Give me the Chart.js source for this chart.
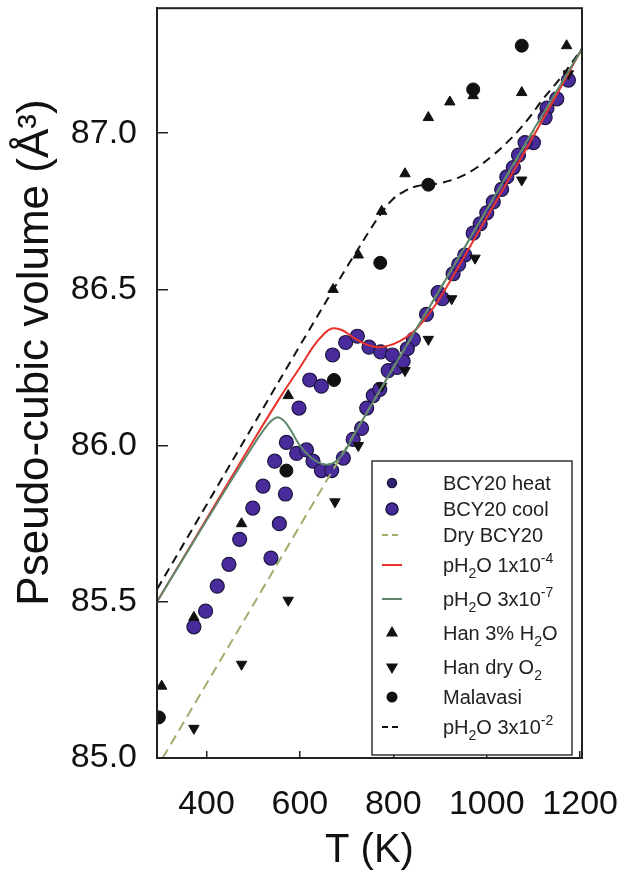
<!DOCTYPE html>
<html>
<head>
<meta charset="utf-8">
<script src="https://cdn.jsdelivr.net/npm/chart.js@4.4.1/dist/chart.umd.min.js"></script>
<style>
  html, body { margin: 0; padding: 0; background: #fff; }
  #wrap { width: 622px; height: 877px; }
</style>
</head>
<body>
<div id="wrap"><canvas id="myChart"></canvas></div>
<script>
// axis ticks
const xTicks = [400, 600, 800, 1000, 1200];
const yTicks = [85.0, 85.5, 86.0, 86.5, 87.0];

// BCY20 measured points
const heatT = [373, 398, 423, 448, 471, 499, 521, 546, 571, 598, 621, 646, 670, 698, 723, 748, 773, 798, 830, 871, 905, 940, 971, 1000, 1032, 1057, 1082, 1125, 1175];
const heatV = [85.42, 85.47, 85.55, 85.62, 85.70, 85.80, 85.87, 85.95, 86.01, 86.12, 86.21, 86.19, 86.29, 86.33, 86.35, 86.315, 86.30, 86.29, 86.31, 86.42, 86.47, 86.58, 86.68, 86.745, 86.82, 86.89, 86.97, 87.05, 87.17];
const coolT = [538, 556, 569, 593, 614, 628, 646, 668, 693, 714, 732, 743, 757, 771, 789, 808, 821, 843, 896, 928, 953, 986, 1014, 1043, 1068, 1100, 1129, 1150];
const coolV = [85.64, 85.75, 85.845, 85.975, 85.986, 85.95, 85.92, 85.92, 85.96, 86.02, 86.055, 86.12, 86.16, 86.18, 86.24, 86.25, 86.27, 86.34, 86.49, 86.55, 86.61, 86.71, 86.78, 86.86, 86.93, 86.97, 87.08, 87.11];

// literature points
const hanWetT = [304, 373, 475, 575, 671, 725, 775, 825, 875, 921, 971, 1075, 1171];
const hanWetV = [85.23, 85.45, 85.75, 86.16, 86.50, 86.61, 86.75, 86.87, 87.05, 87.10, 87.12, 87.13, 87.28];
const hanDryT = [373, 475, 575, 675, 725, 775, 825, 875, 925, 975, 1075, 1175];
const hanDryV = [85.095, 85.30, 85.505, 85.82, 86.00, 86.19, 86.24, 86.34, 86.47, 86.60, 86.85, 87.19];
const malT = [298, 571, 673, 772, 875, 971, 1075];
const malV = [85.13, 85.92, 86.21, 86.585, 86.835, 87.14, 87.28];

// model curves
const dryT = [306, 1204];
const dryV = [85.0, 87.27];
const p4T = [294, 400, 500, 560, 600, 630, 650, 668, 690, 715, 740, 765, 790, 815, 840, 865, 890, 915, 950, 1000, 1100, 1204];
const p4V = [85.50, 85.765, 86.015, 86.16, 86.25, 86.32, 86.355, 86.375, 86.37, 86.345, 86.325, 86.315, 86.32, 86.335, 86.36, 86.40, 86.45, 86.51, 86.60, 86.73, 86.99, 87.27];
const p7T = [294, 400, 500, 530, 550, 565, 580, 600, 625, 650, 672, 693, 720, 800, 900, 1000, 1100, 1204];
const p7V = [85.50, 85.76, 86.00, 86.065, 86.09, 86.08, 86.05, 86.00, 85.96, 85.94, 85.945, 85.975, 86.045, 86.25, 86.50, 86.755, 87.01, 87.27];
const p2T = [294, 400, 500, 600, 700, 725, 750, 775, 800, 825, 850, 875, 900, 943, 979, 1014, 1050, 1086, 1121, 1157, 1204];
const p2V = [85.54, 85.81, 86.065, 86.32, 86.57, 86.63, 86.69, 86.745, 86.79, 86.815, 86.83, 86.835, 86.84, 86.86, 86.89, 86.93, 86.98, 87.04, 87.11, 87.175, 87.27];

const FONT = "'Liberation Sans', Arial, sans-serif";
const pts = (xs, ys) => xs.map((x, i) => ({x: x, y: ys[i]}));

function curve(label, xs, ys, color, dash, order, tension) {
    return {
        label: label, data: pts(xs, ys), showLine: true, pointRadius: 0,
        borderColor: color, backgroundColor: color, borderWidth: 2,
        borderDash: dash, tension: tension, order: order
    };
}

function marks(label, xs, ys, style, opts) {
    return Object.assign({
        label: label, data: pts(xs, ys), showLine: false,
        pointStyle: style, pointRadius: 6, borderWidth: 1,
        backgroundColor: '#111', borderColor: '#111', order: 4
    }, opts);
}

// draw text with _x subscripts and ^-n superscripts
function richText(ctx, text, x, y, size) {
    let cx = x;
    text.split(/(_[^ ]|\^-?\d+)/).filter(Boolean).forEach(p => {
        let t = p, s = size, dy = 0;
        if (p[0] === '_') { t = p.slice(1); s = size * 0.7; dy = size * 0.3; }
        else if (p[0] === '^') { t = p.slice(1); s = size * 0.7; dy = -size * 0.45; }
        ctx.font = s + 'px ' + FONT;
        ctx.fillText(t, cx, y + dy);
        cx += ctx.measureText(t).width;
    });
}

const framePlugin = {
    id: 'frame',
    afterDatasetsDraw(chart) {
        const {ctx, chartArea: a} = chart;
        ctx.save();
        ctx.strokeStyle = '#222';
        ctx.lineWidth = 2;
        ctx.strokeRect(a.left, a.top, a.right - a.left, a.bottom - a.top);
        ctx.restore();
    }
};

const legendPlugin = {
    id: 'insetLegend',
    afterDatasetsDraw(chart) {
        const {ctx, chartArea: a} = chart;
        const right = a.right - 10, bottom = a.bottom - 3;
        const left = right - 200, top = bottom - 294;
        ctx.save();
        ctx.fillStyle = '#fff';
        ctx.fillRect(left, top, right - left, bottom - top);
        ctx.strokeStyle = '#333';
        ctx.lineWidth = 1.5;
        ctx.strokeRect(left, top, right - left, bottom - top);

        const sets = chart.data.datasets;
        let y = top + 22;
        sets.forEach((ds, i) => {
            if (i > 0) {
                y += 26 + (sets[i - 1].label.includes('_') ? 4 : 0) + (ds.label.includes('_') ? 4 : 0);
            }
            const mx = left + 20;
            if (ds.showLine) {
                ctx.strokeStyle = ds.borderColor;
                ctx.lineWidth = 2;
                ctx.setLineDash(ds.borderDash.length ? [6, 4] : []);
                ctx.beginPath();
                ctx.moveTo(mx - 10, y);
                ctx.lineTo(mx + 10, y);
                ctx.stroke();
                ctx.setLineDash([]);
            } else {
                ctx.fillStyle = ds.legendFill || ds.backgroundColor;
                ctx.strokeStyle = ds.borderColor;
                Chart.helpers.drawPoint(ctx, {
                    pointStyle: ds.pointStyle, rotation: ds.rotation || 0,
                    radius: ds.legendRadius || 5, borderWidth: 1
                }, mx, y);
            }
            ctx.fillStyle = '#222';
            ctx.textBaseline = 'alphabetic';
            richText(ctx, ds.label, left + 71, y + 7, 20);
        });
        ctx.restore();
    }
};

const ctx = document.getElementById('myChart');
new Chart(ctx, {
    type: 'scatter',
    data: {
        datasets: [
            marks('BCY20 heat', heatT, heatV, 'circle', {pointRadius: 7, backgroundColor: '#4a2b9c', borderColor: '#1c1640', borderWidth: 1.2, order: 5, legendRadius: 4.5, legendFill: '#2e2375'}),
            marks('BCY20 cool', coolT, coolV, 'circle', {pointRadius: 7, backgroundColor: '#4a2b9c', borderColor: '#1c1640', borderWidth: 1.2, order: 5, legendRadius: 6}),
            curve('Dry BCY20', dryT, dryV, '#9fae6c', [10, 6], 2, 0),
            curve('pH_2O 1x10^-4', p4T, p4V, '#e8322b', [], 1, 0.4),
            curve('pH_2O 3x10^-7', p7T, p7V, '#5e876c', [], 0, 0.4),
            marks('Han 3% H_2O', hanWetT, hanWetV, 'triangle', {legendRadius: 5}),
            marks('Han dry O_2', hanDryT, hanDryV, 'triangle', {rotation: 180, legendRadius: 5}),
            marks('Malavasi', malT, malV, 'circle', {pointRadius: 6.5, legendRadius: 4.5}),
            curve('pH_2O 3x10^-2', p2T, p2V, '#111', [9, 6], 0, 0.4)
        ]
    },
    options: {
        responsive: true,
        maintainAspectRatio: false,
        animation: false,
        layout: {padding: {top: 5, right: 40, left: 0, bottom: 0}},
        plugins: {
            legend: {display: false},
            tooltip: {enabled: false}
        },
        scales: {
            x: {
                type: 'linear',
                min: 294,
                max: 1204,
                afterBuildTicks: s => { s.ticks = xTicks.map(v => ({value: v})); },
                afterFit: s => {
                    s.height = 119;
                    s.paddingLeft = 0;
                    s.paddingRight = 0;
                },
                ticks: {
                    font: {size: 34, family: FONT},
                    color: '#111',
                    padding: 33,
                    autoSkip: false,
                    maxRotation: 0,
                    callback: v => String(v)
                },
                grid: {drawOnChartArea: false, tickLength: -7, color: '#222', lineWidth: 1.5},
                border: {color: '#222', width: 2},
                title: {
                    display: true,
                    text: 'T (K)',
                    color: '#111',
                    font: {size: 40, family: FONT},
                    padding: {top: 0, bottom: 2}
                }
            },
            y: {
                type: 'linear',
                min: 85.0,
                max: 87.4,
                afterBuildTicks: s => { s.ticks = yTicks.map(v => ({value: v})); },
                afterFit: s => {
                    s.width = 157;
                    s.paddingTop = 0;
                    s.paddingBottom = 0;
                },
                ticks: {
                    font: {size: 34, family: FONT},
                    color: '#111',
                    padding: 31,
                    callback: v => v.toFixed(1)
                },
                grid: {drawOnChartArea: false, tickLength: -11, color: '#222', lineWidth: 1.5},
                border: {color: '#222', width: 2},
                title: {
                    display: true,
                    text: '     Pseudo-cubic volume (Å³)',
                    color: '#111',
                    font: {size: 44, family: FONT},
                    padding: {top: 9, bottom: 0}
                }
            }
        }
    },
    plugins: [framePlugin, legendPlugin]
});
</script>
</body>
</html>
